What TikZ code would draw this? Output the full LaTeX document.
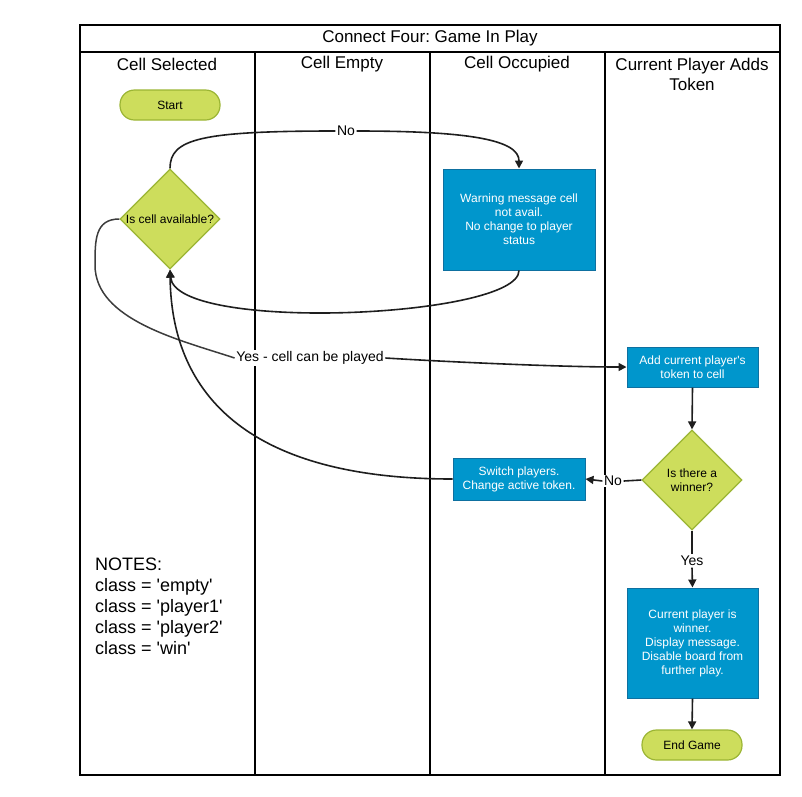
\documentclass[tikz,border=0pt]{standalone}
\usepackage{fontspec}
\setmainfont{Liberation Sans}
\frenchspacing
\usetikzlibrary{shapes.geometric,arrows.meta}
\definecolor{gfill}{RGB}{205,221,92}
\definecolor{gdraw}{RGB}{155,181,52}
\definecolor{bfill}{RGB}{0,150,204}
\definecolor{bdraw}{RGB}{14,112,160}
\definecolor{conn}{RGB}{30,30,30}
\definecolor{conn2}{RGB}{60,60,60}
\tikzset{
  lane/.style={line width=2pt, black},
  pill/.style={draw=gdraw, fill=gfill, line width=1.2pt, rounded corners=14.5pt, minimum width=100pt, minimum height=30pt, inner sep=0pt, font=\fontsize{12}{14}\selectfont},
  dec/.style={diamond, aspect=1, draw=gdraw, fill=gfill, line width=1.2pt, minimum width=100pt, minimum height=100pt, inner sep=0pt},
  dectext/.style={align=center, font=\fontsize{12}{14}\selectfont, inner sep=0pt},
  proc/.style={draw=bdraw, fill=bfill, line width=1pt, text=white, align=center, inner sep=0pt, font=\fontsize{12}{14}\selectfont},
  hdr/.style={align=center, font=\fontsize{17}{20}\selectfont, inner sep=0pt},
  lbl/.style={fill=white, inner sep=1.5pt, font=\fontsize{14}{16}\selectfont},
  con/.style={conn, line width=1.6pt},
  arr/.style={con, -{Triangle[length=8pt,width=8pt]}}
}
\begin{document}
\begin{tikzpicture}[x=1pt,y=-1pt]
\useasboundingbox (0,0) rectangle (802,796);
% frame
\draw[lane] (80,25) rectangle (780,775);
\draw[lane] (80,52) -- (780,52);
\draw[lane] (255,52) -- (255,775);
\draw[lane] (430,52) -- (430,775);
\draw[lane] (605,52) -- (605,775);
\node[hdr] (title) at (430,38) {Connect Four: Game In Play};
\node[hdr] (h1) at (167,64) {Cell Selected};
\node[hdr] (h2) at (342,64) {Cell Empty};
\node[hdr] (h3) at (517,64) {Cell Occupied};
\node[hdr] (h4) at (692,74) {Current Player Adds\\Token};
% nodes
\node[pill] (start) at (170,105) {Start};
\node[dec] (d1) at (170,219) {};
\node[dectext] (d1t) at (170,219) {Is cell available?};
\node[proc, minimum width=152pt, minimum height=101pt] (warn) at (519,219.5) {Warning message cell\\not avail.\\No change to player\\status};
\node[proc, minimum width=131pt, minimum height=40pt] (add) at (692.5,367) {Add current player\textquotesingle s\\token to cell};
\node[dec] (d2) at (692,480) {};
\node[dectext] (d2t) at (692,480) {Is there a\\winner?};
\node[proc, minimum width=132pt, minimum height=42pt] (sw) at (519,479) {Switch players.\\Change active token.};
\node[proc, minimum width=131pt, minimum height=110pt] (winbox) at (692.5,643) {Current player is\\winner.\\Display message.\\Disable board from\\further play.};
\node[pill] (endg) at (692,745) {End Game};
\node[align=left, anchor=north west, inner sep=0pt, font=\fontsize{18}{21}\selectfont] (notes) at (95,558) {NOTES:\\class = \textquotesingle empty\textquotesingle\\class = \textquotesingle player1\textquotesingle\\class = \textquotesingle player2\textquotesingle\\class = \textquotesingle win\textquotesingle};
% labels
\node[lbl] (noA) at (346,131) {No};
\node[lbl] (yesA) at (310,358) {Yes - cell can be played};
\node[lbl] (noB) at (613,481) {No};
\node[lbl] (yesB) at (692,561) {Yes};
% connectors
\draw[con] (d1.north) .. controls (170,139) and (200,131) .. (noA.west);
\draw[arr] (noA.east) .. controls (470,131) and (519,140) .. (warn.north);
\draw[arr] (warn.south) .. controls (519,318) and (175,333) .. (d1.south);
\draw[con, line width=1.5pt, conn2] (d1.west) .. controls (95,219) and (95,240) .. (95,265) .. controls (95,320) and (180,340) .. (yesA.west);
\draw[arr] (yesA.east) .. controls (450,362) and (560,367) .. (add.west);
\draw[arr] (add.south) -- (d2.north);
\draw[con] (d2.west) -- (noB.east);
\draw[arr] (noB.west) -- (sw.east);
\draw[arr] (sw.west) .. controls (200,479) and (171,350) .. (d1.south);
\draw[con] (d2.south) -- (yesB.north);
\draw[arr] (yesB.south) -- (winbox.north);
\draw[arr] (winbox.south) -- (endg.north);
\end{tikzpicture}
\end{document}
